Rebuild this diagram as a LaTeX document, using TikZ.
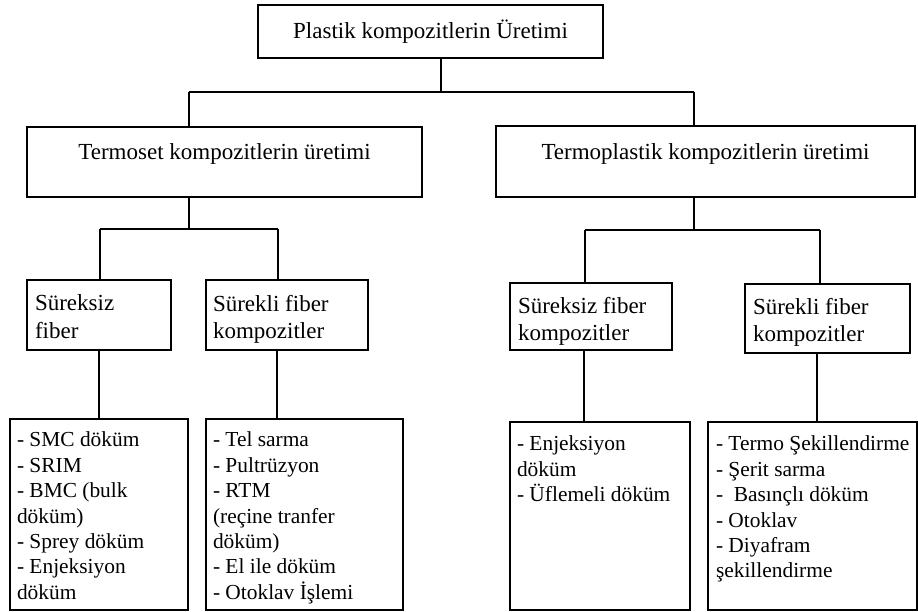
\documentclass[tikz,border=0pt]{standalone}
\usepackage{fontspec}
\setmainfont{Liberation Serif}
\newcommand*{\headfont}{\fontsize{23}{27.5}\selectfont}
\newcommand*{\listfont}{\fontsize{21.4}{25.4}\selectfont}
\usetikzlibrary{positioning}
\tikzstyle{base}=[x=1pt, y=-1pt, line width=1.4pt]
\tikzstyle{box}=[draw, anchor=north west, inner sep=0pt, outer sep=0pt]
\tikzstyle{headtxt}=[inner sep=0pt, outer sep=0pt, align=left, font=\headfont]
\tikzstyle{listtxt}=[inner sep=0pt, outer sep=0pt, align=left, font=\listfont]

\begin{document}
\begin{tikzpicture}[base]
    \path [use as bounding box] (0,0) rectangle (918,612);
        \node [box, minimum width=345pt, minimum height=53pt, font=\headfont] (uretim) at (258,5) {Plastik kompozitlerin Üretimi};
        \node [box, minimum width=395pt, minimum height=70pt] (termoset) at (27,127) {};
        \node [box, minimum width=419pt, minimum height=71pt] (termoplastik) at (496,126) {};
        \node [headtxt, below=17pt of termoset.north] (termosetT) {Termoset kompozitlerin üretimi};
        \node [headtxt, below=18pt of termoplastik.north] (termoplastikT) {Termoplastik kompozitlerin üretimi};
        \node [box, minimum width=144pt, minimum height=70pt] (tsSureksiz) at (27,280) {};
        \node [box, minimum width=162pt, minimum height=70pt] (tsSurekli) at (206,280) {};
        \node [box, minimum width=162pt, minimum height=67pt] (tpSureksiz) at (510,283) {};
        \node [box, minimum width=165pt, minimum height=69pt] (tpSurekli) at (745,284) {};
        \node [headtxt, below right=15pt and 8pt of tsSureksiz.north west] (tsSureksizT) {Süreksiz\\fiber};
        \node [headtxt, below right=15pt and 7pt of tsSurekli.north west] (tsSurekliT) {Sürekli fiber\\kompozitler};
        \node [headtxt, below right=14pt and 8pt of tpSureksiz.north west] (tpSureksizT) {Süreksiz fiber\\kompozitler};
        \node [headtxt, below right=14pt and 8pt of tpSurekli.north west] (tpSurekliT) {Sürekli fiber\\kompozitler};
        \node [box, minimum width=178pt, minimum height=191pt] (tsSureksizList) at (10,419) {};
        \node [box, minimum width=197pt, minimum height=191pt] (tsSurekliList) at (206,419) {};
        \node [box, minimum width=180pt, minimum height=188pt] (tpSureksizList) at (510,422) {};
        \node [box, minimum width=209pt, minimum height=188pt] (tpSurekliList) at (708,422) {};
        \node [listtxt, below right=13pt and 7pt of tsSureksizList.north west] (tsSureksizL) {- SMC döküm\\- SRIM\\- BMC (bulk\\döküm)\\- Sprey döküm\\- Enjeksiyon\\döküm};
        \node [listtxt, below right=13pt and 7pt of tsSurekliList.north west] (tsSurekliL) {- Tel sarma\\- Pultrüzyon\\- RTM\\(reçine tranfer\\döküm)\\- El ile döküm\\- Otoklav İşlemi};
        \node [listtxt, below right=14pt and 7pt of tpSureksizList.north west] (tpSureksizL) {- Enjeksiyon\\döküm\\- Üflemeli döküm};
        \node [listtxt, below right=14pt and 8pt of tpSurekliList.north west] (tpSurekliL) {- Termo Şekillendirme\\- Şerit sarma\\-~~Basınçlı döküm\\- Otoklav\\- Diyafram\\şekillendirme};
        \coordinate (ustKol) at (441,92);
        \coordinate (tsKol) at (189,92);
        \coordinate (tpKol) at (694,92);
        \draw (uretim.south -| ustKol) -- (ustKol);
        \draw (tsKol) -- (tpKol);
        \draw (tsKol) -- (tsKol |- termoset.north);
        \draw (tpKol) -- (tpKol |- termoplastik.north);
        \coordinate (tsAlt) at (189,229);
        \coordinate (tpAlt) at (694,230);
        \draw (termoset.south -| tsAlt) -- (tsAlt);
        \draw (termoplastik.south -| tpAlt) -- (tpAlt);
        \draw (100,229) coordinate (sfKol) -- (278,229) coordinate (skKol);
        \draw (585,230) coordinate (tpsfKol) -- (820,230) coordinate (tpskKol);
        \draw (sfKol) -- (sfKol |- tsSureksiz.north);
        \draw (skKol) -- (skKol |- tsSurekli.north);
        \draw (tpsfKol) -- (tpsfKol |- tpSureksiz.north);
        \draw (tpskKol) -- (tpskKol |- tpSurekli.north);
        \foreach \a/\b/\x in {tsSureksiz/tsSureksizList/99, tsSurekli/tsSurekliList/277, tpSureksiz/tpSureksizList/584, tpSurekli/tpSurekliList/817}
        {
            \coordinate (k) at (\x,0);
            \draw (\a.south -| k) -- (\b.north -| k);
        }
\end{tikzpicture}
\end{document}
